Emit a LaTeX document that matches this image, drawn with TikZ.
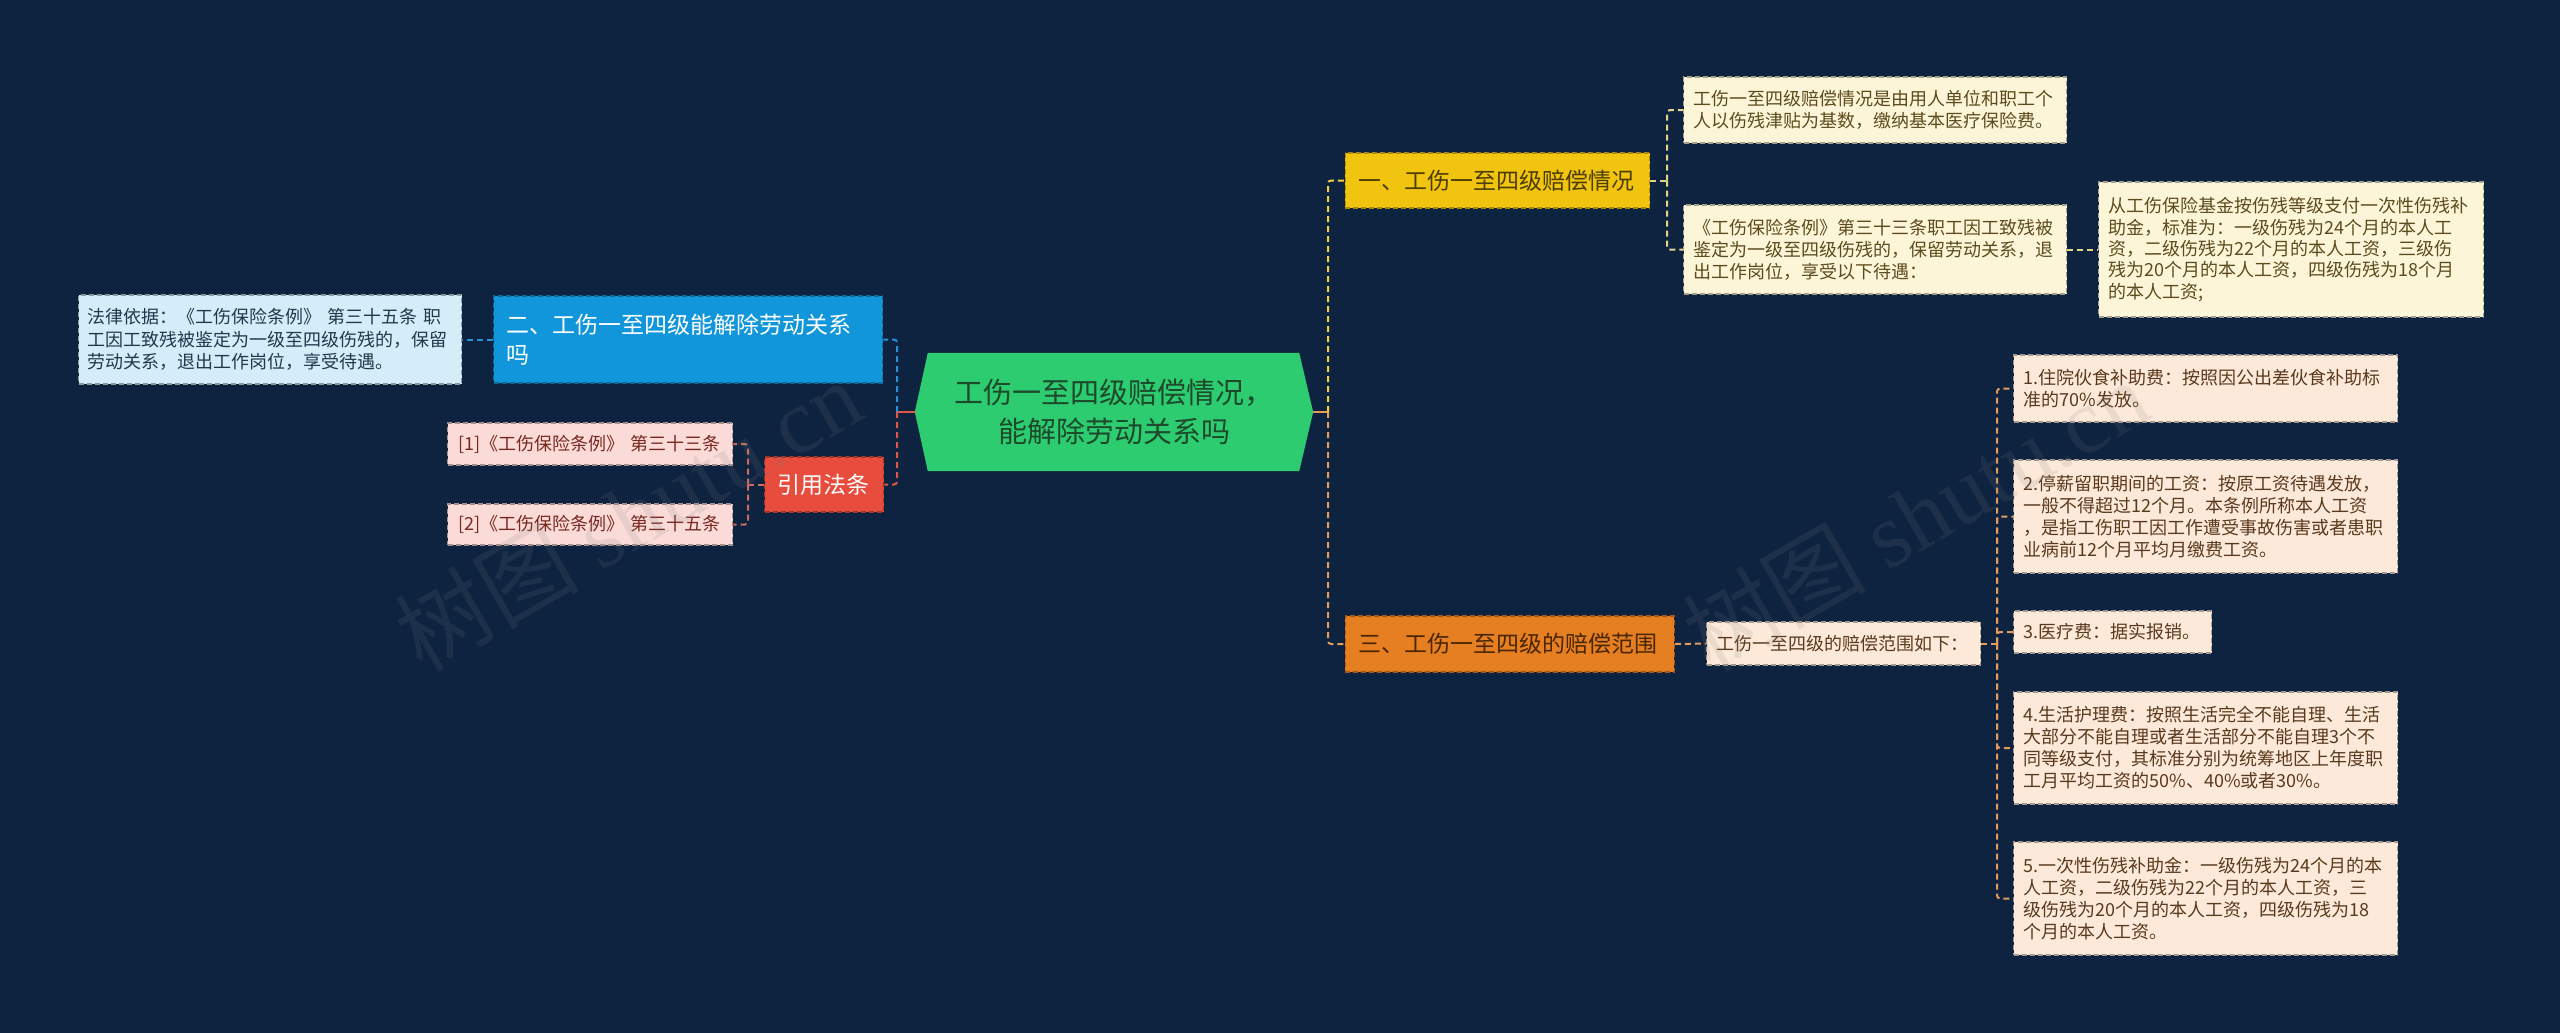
\documentclass[tikz,border=0pt]{standalone}
\usepackage{fontspec}
\setmainfont{Noto Sans CJK SC}
\newfontfamily\wmlatin{Liberation Serif}
\usetikzlibrary{backgrounds}
\definecolor{bg}{HTML}{0E2340}
\definecolor{cgreen}{HTML}{2ECC71}
\definecolor{ctxt}{HTML}{1C4A2B}
\definecolor{cyel}{HTML}{F1C40F}
\definecolor{cyeltxt}{HTML}{4D3D05}
\definecolor{cblue}{HTML}{1296DB}
\definecolor{corg}{HTML}{E67E22}
\definecolor{corgtxt}{HTML}{4A2600}
\definecolor{cred}{HTML}{E74C3C}
\definecolor{lblue}{HTML}{D4EDF9}
\definecolor{lbluetxt}{HTML}{1E3A4C}
\definecolor{lpink}{HTML}{FADBD8}
\definecolor{lpinktxt}{HTML}{78281F}
\definecolor{lcream}{HTML}{FDF5D8}
\definecolor{lcreamtxt}{HTML}{5C4B1E}
\definecolor{lpeach}{HTML}{FCE9D9}
\definecolor{lpeachtxt}{HTML}{5A3A1E}
\definecolor{lnyel}{HTML}{F4D03F}
\definecolor{lnyel2}{HTML}{E6D38A}
\definecolor{lnorg}{HTML}{E59B5A}
\definecolor{lnred}{HTML}{E0574A}
\definecolor{lnred2}{HTML}{CC6A5E}
\definecolor{lnblue}{HTML}{2A8FD4}
\begin{document}
\begin{tikzpicture}[x=1pt,y=-1pt,
  box/.style={anchor=west, inner ysep=0pt, align=left, dash pattern=on 5pt off 3pt, line width=1.3pt},
  leaf/.style={box, font=\fontsize{18}{22}\selectfont, inner xsep=10pt},
  lvl/.style={box, font=\fontsize{23}{30}\selectfont, inner xsep=13.5pt},
  conn/.style={line width=2pt, dash pattern=on 6pt off 4pt, rounded corners=3pt},
  solidconn/.style={line width=2.5pt},
  wmark/.style={rotate=30, text=gray, opacity=0.14, font=\fontsize{92}{92}\selectfont}
]
\useasboundingbox (0,0) rectangle (2560,1033);
\begin{pgfonlayer}{background}
\fill[bg] (0,0) rectangle (2560,1033);
\end{pgfonlayer}

% central
\node[inner sep=0pt, minimum width=398pt, minimum height=118pt, align=center, text=ctxt,
  font=\fontsize{29}{39}\selectfont] (c) at (1114,412) {工伤一至四级赔偿情况，\\能解除劳动关系吗};
\begin{pgfonlayer}{background}
\fill[cgreen] (c.west) -- ([xshift=13pt]c.north west) -- ([xshift=-14pt]c.north east) -- (c.east)
  -- ([xshift=-14pt]c.south east) -- ([xshift=13pt]c.south west) -- cycle;
\end{pgfonlayer}

% level 1
\node[lvl, fill=cyel, draw=cyel!70!black, text=cyeltxt, text width=277.5pt, minimum height=55pt] (n1) at (1344.5,180.5) {一、工伤一至四级赔偿情况};
\node[lvl, fill=cblue, draw=cblue!70!black, text=white, inner xsep=13pt, text width=363pt, minimum height=87pt] (n2) at (493,339.5) {二、工伤一至四级能解除劳动关系\\吗};
\node[lvl, fill=corg, draw=corg!70!black, text=corgtxt, text width=302pt, minimum height=56pt] (n3) at (1344.5,644) {三、工伤一至四级的赔偿范围};
\node[lvl, fill=cred, draw=cred!70!black, text=white, inner xsep=13pt, text width=93pt, minimum height=55pt] (yy) at (764,484.5) {引用法条};

% left leaves
\node[leaf, fill=lblue, draw=lblue!65!black, text=lbluetxt, inner xsep=9pt, text width=365pt, minimum height=89pt,
  font=\fontsize{18}{22.5}\selectfont] (law) at (78,339.5)
  {法律依据：《工伤保险条例》 第三十五条 职\\工因工致残被鉴定为一级至四级伤残的，保留\\劳动关系，退出工作岗位，享受待遇。};
\node[leaf, fill=lpink, draw=lpink!65!black, text=lpinktxt, inner xsep=11pt, text width=263pt, minimum height=42pt] (r1) at (447,444) {[1]《工伤保险条例》 第三十三条};
\node[leaf, fill=lpink, draw=lpink!65!black, text=lpinktxt, inner xsep=11pt, text width=263pt, minimum height=41pt] (r2) at (447,524.5) {[2]《工伤保险条例》 第三十五条};

% right leaves of n1
\node[leaf, fill=lcream, draw=lcream!65!black, text=lcreamtxt, text width=363pt, minimum height=66pt] (a1) at (1683,110)
  {工伤一至四级赔偿情况是由用人单位和职工个\\人以伤残津贴为基数，缴纳基本医疗保险费。};
\node[leaf, fill=lcream, draw=lcream!65!black, text=lcreamtxt, text width=363pt, minimum height=89pt] (a2) at (1683,249.5)
  {《工伤保险条例》第三十三条职工因工致残被\\鉴定为一级至四级伤残的，保留劳动关系，退\\出工作岗位，享受以下待遇：};
\node[leaf, fill=lcream, draw=lcream!65!black, text=lcreamtxt, text width=365pt, minimum height=135pt,
  font=\fontsize{18}{21.3}\selectfont] (a3) at (2098,249.5)
  {从工伤保险基金按伤残等级支付一次性伤残补\\助金，标准为：一级伤残为24个月的本人工\\资，二级伤残为22个月的本人工资，三级伤\\残为20个月的本人工资，四级伤残为18个月\\的本人工资;};

% right leaves of n3
\node[leaf, fill=lpeach, draw=lpeach!65!black, text=lpeachtxt, text width=254pt, minimum height=43pt] (d0) at (1706,643.5) {工伤一至四级的赔偿范围如下：};
\node[leaf, fill=lpeach, draw=lpeach!65!black, text=lpeachtxt, text width=364pt, minimum height=67pt] (i1) at (2013,388.5)
  {1.住院伙食补助费：按照因公出差伙食补助标\\准的70\%发放。};
\node[leaf, fill=lpeach, draw=lpeach!65!black, text=lpeachtxt, text width=364pt, minimum height=113pt] (i2) at (2013,516.5)
  {2.停薪留职期间的工资：按原工资待遇发放，\\一般不得超过12个月。本条例所称本人工资\\，是指工伤职工因工作遭受事故伤害或者患职\\业病前12个月平均月缴费工资。};
\node[leaf, fill=lpeach, draw=lpeach!65!black, text=lpeachtxt, text width=178pt, minimum height=42pt] (i3) at (2013,632)
  {3.医疗费：据实报销。};
\node[leaf, fill=lpeach, draw=lpeach!65!black, text=lpeachtxt, text width=364pt, minimum height=112pt] (i4) at (2013,748)
  {4.生活护理费：按照生活完全不能自理、生活\\大部分不能自理或者生活部分不能自理3个不\\同等级支付，其标准分别为统筹地区上年度职\\工月平均工资的50\%、40\%或者30\%。};
\node[leaf, fill=lpeach, draw=lpeach!65!black, text=lpeachtxt, text width=364pt, minimum height=113pt] (i5) at (2013,898.5)
  {5.一次性伤残补助金：一级伤残为24个月的本\\人工资，二级伤残为22个月的本人工资，三\\级伤残为20个月的本人工资，四级伤残为18\\个月的本人工资。};

% junctions
\coordinate (jr) at (1328,412);
\coordinate (jl) at (897,412);
\coordinate (jy) at (748,484.5);
\coordinate (j1) at (1667,180.5);
\coordinate (j3) at (1997,643.5);

% connectors right
\draw[solidconn, lnorg] (c.east) -- (jr);
\draw[conn, lnyel] (jr) |- (n1.west);
\draw[conn, lnorg] (jr) |- (n3.west);
\draw[conn, lnyel2] (n1.east) -- (j1);
\draw[conn, lnyel2] (j1) |- (a1.west);
\draw[conn, lnyel2] (j1) |- (a2.west);
\draw[conn, lnyel2] (a2.east) -- (a3.west);
\draw[conn, lnorg] (n3.east) -- (d0.west);
\draw[conn, lnorg] (d0.east) -- (j3);
\foreach \t in {i1,i2,i3,i4,i5} \draw[conn, lnorg] (j3) |- (\t.west);

% connectors left
\draw[solidconn, lnred] (c.west) -- (jl);
\draw[conn, lnblue] (jl) |- (n2.east);
\draw[conn, lnred] (jl) |- (yy.east);
\draw[conn, lnblue] (n2.west) -- (law.east);
\draw[conn, lnred2] (yy.west) -- (jy);
\draw[conn, lnred2] (jy) |- (r1.east);
\draw[conn, lnred2] (jy) |- (r2.east);

% watermarks
\node[wmark] (wm1) at (628,515) {树图 {\wmlatin shutu.cn}};
\node[wmark] (wm2) at (1915,515) {树图 {\wmlatin shutu.cn}};
\end{tikzpicture}
\end{document}
